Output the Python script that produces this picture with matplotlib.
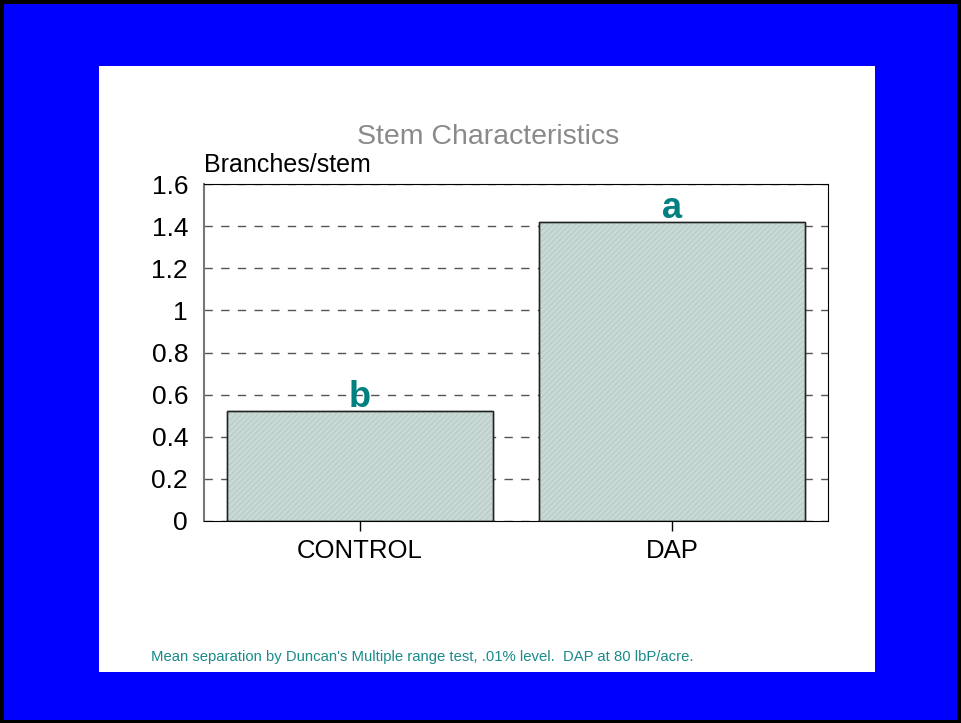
# Branches per stem, CONTROL vs DAP, with Duncan mean separation letters

import matplotlib.pyplot as plt
from matplotlib.patches import Rectangle

plt.rcParams['font.family'] = ['Liberation Sans', 'DejaVu Sans']
plt.rcParams['hatch.linewidth'] = 0.6

treatments = ['CONTROL', 'DAP']
branches = [0.52, 1.42]
letters = ['b', 'a']
yticks = [0, 0.2, 0.4, 0.6, 0.8, 1, 1.2, 1.4, 1.6]

fig = plt.figure(figsize=(9.61, 7.23), dpi=100)
fig.patch.set_facecolor('black')

# blue slide background and white chart panel
fig.add_artist(Rectangle((4/961, 3/723), 953/961, 716/723, transform=fig.transFigure,
                         facecolor='#0000ff', edgecolor='none', zorder=0))
fig.add_artist(Rectangle((99/961, 1 - 672/723), 776/961, 606/723, transform=fig.transFigure,
                         facecolor='white', edgecolor='none', zorder=0))

ax = fig.add_axes([204/961, 1 - 521/723, 624/961, 337/723])
ax.set_facecolor('white')

x = range(len(treatments))
ax.bar(x, branches, width=0.85, color='#c9d9d6', edgecolor='#222222', linewidth=1, zorder=2)
# fine diagonal texture over the fill
ax.bar(x, branches, width=0.85, color='none', edgecolor='#b3c6c2', hatch='//////',
       linewidth=0, zorder=2)
ax.bar(x, branches, width=0.85, color='none', edgecolor='#222222', linewidth=1, zorder=2)
for xi, v, s in zip(x, branches, letters):
    ax.text(xi, v - 0.018, s, ha='center', va='bottom', fontsize=26, fontweight='bold',
            color='#008080', zorder=3)

ax.set_xlim(-0.5, 1.5)
ax.set_ylim(0, 1.6)
ax.set_yticks(yticks)
ax.set_yticklabels(['0', '0.2', '0.4', '0.6', '0.8', '1', '1.2', '1.4', '1.6'], fontsize=19)
ax.set_xticks(list(x))
ax.set_xticklabels(treatments, fontsize=18.5)
ax.tick_params(axis='y', length=0, pad=11.5)
ax.tick_params(axis='x', direction='out', length=7, width=1, pad=6)
ax.yaxis.grid(True, linestyle=(0, (6, 6)), color='#555555', linewidth=1, zorder=1)
ax.set_axisbelow(True)
for side in ['top', 'right', 'bottom']:
    ax.spines[side].set_color('black')
ax.spines['left'].set_color('#777777')
ax.spines['left'].set_linewidth(1.5)

fig.text(204/961, 1 - 165/723, 'Branches/stem', fontsize=18, color='black', va='center')
fig.text(488/961, 1 - 137/723, 'Stem Characteristics', fontsize=20.5, color='#8a8a8a',
         ha='center', va='center')
fig.text(151/961, 1 - 657/723,
         "Mean separation by Duncan's Multiple range test, .01% level.  DAP at 80 lbP/acre.",
         fontsize=10.7, color='#1a8a8a', va='center')

fig.savefig('out.png', dpi=100, facecolor=fig.get_facecolor())
